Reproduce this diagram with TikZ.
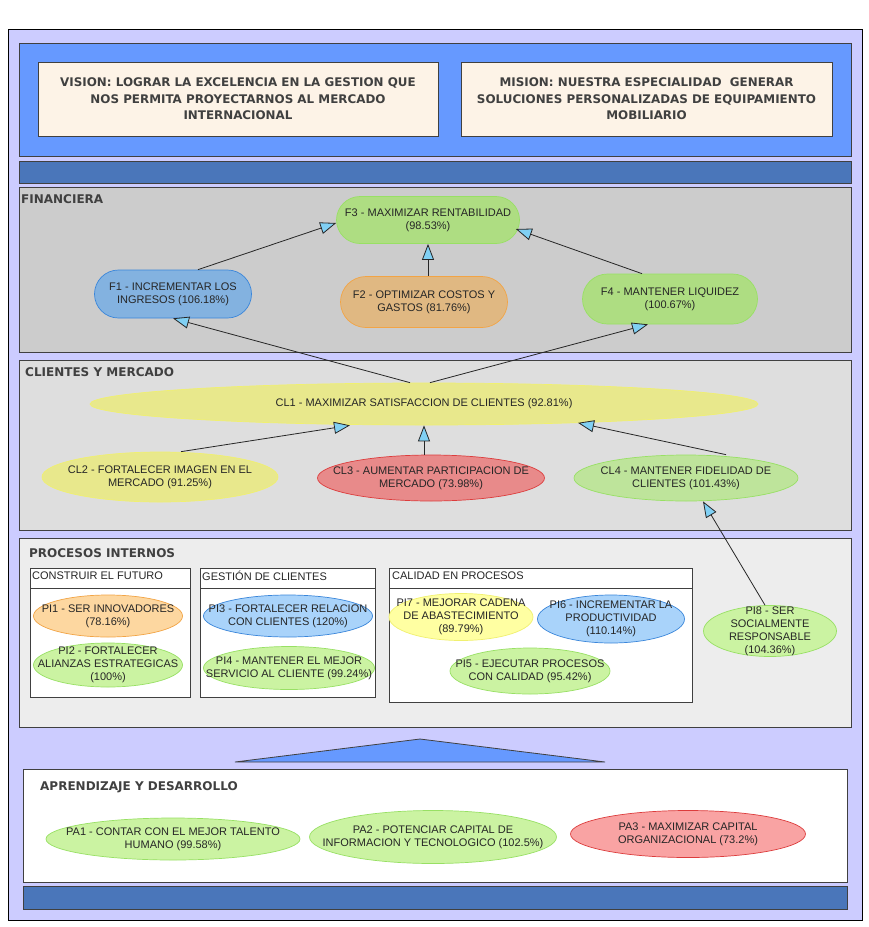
\documentclass[tikz,border=0pt]{standalone}
\usepackage{fontspec}
\setmainfont{Liberation Sans}
\newfontfamily\hdfont{DejaVu Sans}
\usetikzlibrary{shapes.geometric,shapes.misc,arrows.meta}
\definecolor{lila}{HTML}{CCCCFF}
\definecolor{topblue}{HTML}{6699FF}
\definecolor{barblue}{HTML}{4A76BA}
\definecolor{cream}{HTML}{FDF3E7}
\definecolor{tipblue}{HTML}{80D0F4}
\definecolor{fgreen}{HTML}{AEDD82}
\definecolor{lgreen}{HTML}{CBF3A2}
\definecolor{bgreen}{HTML}{98E064}
\definecolor{fblue}{HTML}{83B2E0}
\definecolor{lblue}{HTML}{A9D3FA}
\definecolor{bblue}{HTML}{3A86DA}
\definecolor{forange}{HTML}{E0B882}
\definecolor{lorange}{HTML}{FDD7A0}
\definecolor{borange}{HTML}{F2A445}
\definecolor{fyellow}{HTML}{E8E88C}
\definecolor{lyellow}{HTML}{FFFFA2}
\definecolor{byellow}{HTML}{F0F070}
\definecolor{fred}{HTML}{E88A8A}
\definecolor{lred}{HTML}{F9A3A3}
\definecolor{bred}{HTML}{DC3C3C}
\newcommand{\hdr}{\hdfont\bfseries\fontsize{12}{14}\selectfont}

\begin{document}
\begin{tikzpicture}[x=1pt,y=-1pt,
  panel/.style={draw=black!75, line width=0.8pt},
  goal/.style={ellipse, line width=0.7pt, inner sep=0pt},
  pill/.style={rounded rectangle, line width=0.7pt, inner sep=0pt},
  txt/.style={font=\fontsize{11}{13}\selectfont, align=center, text=black!85},
  head/.style={font=\hdr, text=black!75, anchor=west, inner sep=0pt},
  sub/.style={font=\fontsize{11}{13}\selectfont, text=black!85, anchor=west, inner sep=0pt},
  link/.style={draw=black!85, line width=0.8pt, -{Triangle[length=16pt,width=12pt,fill=tipblue]}}]
  \useasboundingbox (0,0) rectangle (869,927);

  % panels
  \draw[line width=0.8pt, fill=lila] (8,29) rectangle (862,920);
  \draw[panel, fill=topblue] (19,43) rectangle (851,156);
  \draw[panel, fill=barblue] (19,161) rectangle (851,183);
  \draw[panel, fill=black!20] (19,187) rectangle (851,352);
  \draw[panel, fill=black!13] (19,360) rectangle (851,530);
  \draw[panel, fill=black!7] (19,538) rectangle (851,727);
  \draw[panel, fill=topblue] (235,762) -- (420,739) -- (605,762) -- cycle;
  \draw[panel, fill=white] (23,769) rectangle (847,882);
  \draw[panel, fill=barblue] (23,886) rectangle (847,909);

  \node[draw=black!75, fill=cream, line width=1pt, minimum width=400pt, minimum height=74pt,
    font=\hdfont\bfseries\fontsize{11.9}{16.5}\selectfont, align=center, text=black!75] (vision) at (238,99)
    {VISION: LOGRAR LA EXCELENCIA EN LA GESTION QUE\\NOS PERMITA PROYECTARNOS AL MERCADO\\INTERNACIONAL};
  \node[draw=black!75, fill=cream, line width=1pt, minimum width=371pt, minimum height=74pt,
    font=\hdfont\bfseries\fontsize{11.9}{16.5}\selectfont, align=center, text=black!75] (mision) at (646.5,99)
    {MISION: NUESTRA ESPECIALIDAD \ GENERAR\\SOLUCIONES PERSONALIZADAS DE EQUIPAMIENTO\\MOBILIARIO};

  \node[head] (hfin) at (21,199) {FINANCIERA};
  \node[head] (hcli) at (25,372) {CLIENTES Y MERCADO};
  \node[head] (hpro) at (29,553) {PROCESOS INTERNOS};
  \node[head] (hapr) at (40,787) {APRENDIZAJE Y DESARROLLO};

  % groups of the internal processes
  \draw[panel, fill=white] (30,568) rectangle (190,697);
  \draw[panel] (30,588) -- (190,588);
  \draw[panel, fill=white] (200,568) rectangle (375,697);
  \draw[panel] (200,588) -- (375,588);
  \draw[panel, fill=white] (389,568) rectangle (692,702);
  \draw[panel] (389,588) -- (692,588);
  \node[sub] (gfut) at (32,576) {CONSTRUIR EL FUTURO};
  \node[sub] (gcli) at (202,576) {GESTIÓN DE CLIENTES};
  \node[sub] (gcal) at (392,576) {CALIDAD EN PROCESOS};

  % financiera
  \node[pill, fill=fgreen, draw=bgreen, minimum width=183pt, minimum height=47pt,
    label={[txt]center:F3 - MAXIMIZAR RENTABILIDAD\\(98.53\%)}] (f3) at (428,220) {};
  \node[pill, fill=fblue, draw=bblue, minimum width=157pt, minimum height=48pt,
    label={[txt]center:F1 - INCREMENTAR LOS\\INGRESOS (106.18\%)}] (f1) at (173,294) {};
  \node[pill, fill=forange, draw=borange, minimum width=167pt, minimum height=51pt,
    label={[txt]center:F2 - OPTIMIZAR COSTOS Y\\GASTOS (81.76\%)}] (f2) at (424,302) {};
  \node[pill, fill=fgreen, draw=bgreen, minimum width=175pt, minimum height=50pt,
    label={[txt]center:F4 - MANTENER LIQUIDEZ\\(100.67\%)}] (f4) at (670,299) {};

  % clientes
  \node[goal, fill=fyellow, draw=byellow, minimum width=668pt, minimum height=42pt,
    label={[txt]center:CL1 - MAXIMIZAR SATISFACCION DE CLIENTES (92.81\%)}] (cl1) at (424,404) {};
  \node[goal, fill=fyellow, draw=byellow, minimum width=236pt, minimum height=50pt,
    label={[txt]center:CL2 - FORTALECER IMAGEN EN EL\\MERCADO (91.25\%)}] (cl2) at (160,477) {};
  \node[goal, fill=fred, draw=bred, minimum width=227pt, minimum height=46pt,
    label={[txt]center:CL3 - AUMENTAR PARTICIPACION DE\\MERCADO (73.98\%)}] (cl3) at (431,478) {};
  \node[goal, fill=fgreen!80!white, draw=bgreen, minimum width=224pt, minimum height=46pt,
    label={[txt]center:CL4 - MANTENER FIDELIDAD DE\\CLIENTES (101.43\%)}] (cl4) at (686,478) {};

  % procesos internos
  \node[goal, fill=lorange, draw=borange, minimum width=149pt, minimum height=42pt,
    label={[txt]center:PI1 - SER INNOVADORES\\(78.16\%)}] (pi1) at (108,616) {};
  \node[goal, fill=lgreen, draw=bgreen, minimum width=149pt, minimum height=44pt,
    label={[txt]center:PI2 - FORTALECER\\ALIANZAS ESTRATEGICAS\\(100\%)}] (pi2) at (108,665) {};
  \node[goal, fill=lblue, draw=bblue, minimum width=169pt, minimum height=42pt,
    label={[txt]center:PI3 - FORTALECER RELACION\\CON CLIENTES (120\%)}] (pi3) at (288,616) {};
  \node[goal, fill=lgreen, draw=bgreen, minimum width=171pt, minimum height=43pt,
    label={[txt]center:PI4 - MANTENER EL MEJOR\\SERVICIO AL CLIENTE (99.24\%)}] (pi4) at (289,668) {};
  \node[goal, fill=lyellow, draw=byellow, minimum width=144pt, minimum height=47pt,
    label={[txt]center:PI7 - MEJORAR CADENA\\DE ABASTECIMIENTO\\(89.79\%)}] (pi7) at (461,617) {};
  \node[goal, fill=lblue, draw=bblue, minimum width=147pt, minimum height=48pt,
    label={[txt]center:PI6 - INCREMENTAR LA\\PRODUCTIVIDAD\\(110.14\%)}] (pi6) at (611,619) {};
  \node[goal, fill=lgreen, draw=bgreen, minimum width=160pt, minimum height=46pt,
    label={[txt]center:PI5 - EJECUTAR PROCESOS\\CON CALIDAD (95.42\%)}] (pi5) at (530,671) {};
  \node[goal, fill=lgreen, draw=bgreen, minimum width=133pt, minimum height=51pt,
    label={[txt]center:PI8 - SER\\SOCIALMENTE\\RESPONSABLE\\(104.36\%)}] (pi8) at (770,631) {};

  % aprendizaje
  \node[goal, fill=lgreen, draw=bgreen, minimum width=254pt, minimum height=42pt,
    label={[txt]center:PA1 - CONTAR CON EL MEJOR TALENTO\\HUMANO (99.58\%)}] (pa1) at (173,839) {};
  \node[goal, fill=lgreen, draw=bgreen, minimum width=247pt, minimum height=53pt,
    label={[txt]center:PA2 - POTENCIAR CAPITAL DE\\INFORMACION Y TECNOLOGICO (102.5\%)}] (pa2) at (433,837) {};
  \node[goal, fill=lred, draw=bred, minimum width=235pt, minimum height=47pt,
    label={[txt]center:PA3 - MAXIMIZAR CAPITAL\\ORGANIZACIONAL (73.2\%)}] (pa3) at (688,834) {};

  % links
  \draw[link] ([xshift=25pt]f1.north) -- ([yshift=-3pt]f3.west);
  \draw[link] (f3.south |- f2.north) -- (f3.south);
  \draw[link] ([xshift=-28pt]f4.north) -- ([shift={(-4pt,-9pt)}]f3.east);
  \draw[link] ([xshift=-14pt]cl1.north) -- (f1.south);
  \draw[link] ([xshift=6pt]cl1.north) -- ([xshift=-22pt]f4.south);
  \draw[link] ([xshift=21pt]cl2.north) -- ([xshift=-74pt]cl1.south);
  \draw[link] (cl1.south |- cl3.north) -- (cl1.south);
  \draw[link] ([xshift=40pt]cl4.north) -- ([shift={(154pt,2.5pt)}]cl1.south);
  \draw[link] ([xshift=-5pt]pi8.north) -- ([xshift=17pt]cl4.south);
\end{tikzpicture}
\end{document}
